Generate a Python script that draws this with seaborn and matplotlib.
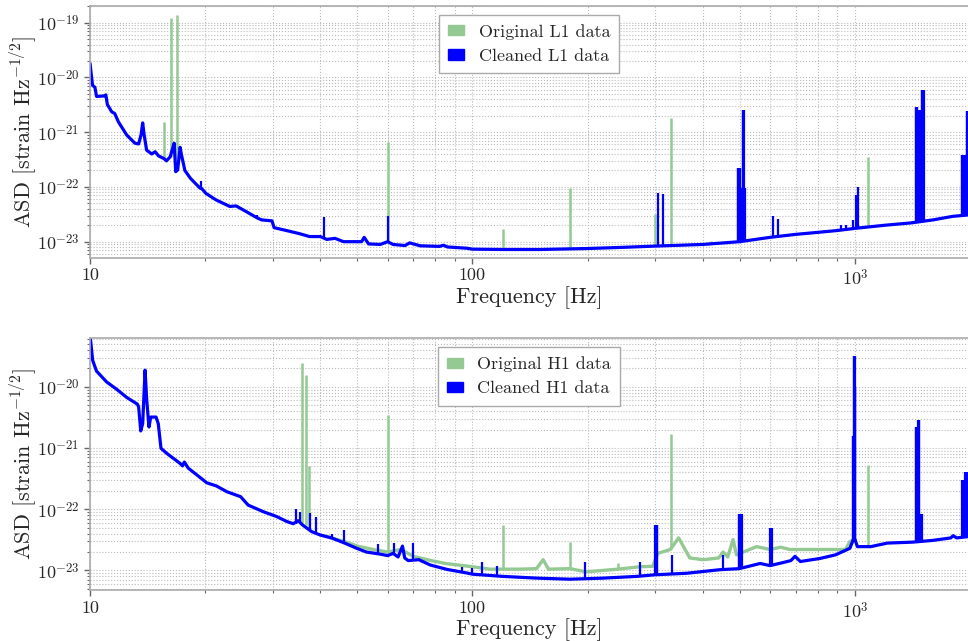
"""
ASD of original vs cleaned L1 / H1 strain data
"""

import numpy as np
import matplotlib
matplotlib.use('Agg')
import matplotlib.pyplot as plt
from matplotlib.patches import Patch
from matplotlib.ticker import LogLocator, NullFormatter, FuncFormatter, FixedLocator
import seaborn as sns

# ---------------- L1 (top panel) ----------------
# broadband curve of the cleaned data (original lies underneath it)
l1_freq = [10.0, 10.15, 10.3, 10.4, 10.9, 11.0, 11.1, 11.4, 11.6, 11.86, 12.47, 13.1, 13.4,
           13.6, 13.73, 13.85, 14.06, 14.5, 14.8, 15.1, 15.6, 15.85, 16.2, 16.45, 16.6,
           16.75, 16.95, 17.2, 17.35, 17.7, 18.3, 19.0, 19.4, 19.6, 20.1, 21.35, 23.2,
           24.1, 25.6, 27.4, 28.1, 29.9, 30.3, 32.6, 35.3, 37.5, 40.0, 41.6, 43.7, 46.0,
           51.3, 52.1, 53.5, 57.4, 60.0, 62.0, 66.6, 68.5, 73.0, 82.0, 84.0, 86.0, 96.6,
           100, 120, 150, 200, 250, 300, 400, 500, 600, 700, 800, 900, 1000, 1200, 1400,
           1600, 1800, 2000]
l1_clean = [1.8e-20, 7.2e-21, 6.6e-21, 4.5e-21, 4.6e-21, 4.8e-21, 3.2e-21, 2.35e-21, 2.2e-21,
            1.55e-21, 8.9e-22, 6.3e-22, 6.1e-22, 9e-22, 1.48e-21, 9e-22, 4.7e-22, 4.0e-22,
            4.4e-22, 3.7e-22, 3.3e-22, 3.0e-22, 3.55e-22, 5.1e-22, 6.3e-22, 1.9e-22, 2.05e-22,
            5.3e-22, 3.8e-22, 2.0e-22, 1.44e-22, 1.1e-22, 9.5e-23, 9.3e-23, 7.6e-23, 5.8e-23,
            4.4e-23, 4.5e-23, 3.55e-23, 2.7e-23, 2.5e-23, 2.4e-23, 1.8e-23, 1.6e-23, 1.4e-23,
            1.24e-23, 1.24e-23, 1.1e-23, 1.15e-23, 1.0e-23, 1.0e-23, 1.2e-23, 9.1e-24, 8.9e-24,
            1.0e-23, 8.9e-24, 8.5e-24, 9.5e-24, 8.4e-24, 8.2e-24, 8.6e-24, 8.0e-24, 7.6e-24,
            7.3e-24, 7.2e-24, 7.2e-24, 7.5e-24, 7.9e-24, 8.3e-24, 8.9e-24, 1.0e-23, 1.2e-23,
            1.36e-23, 1.48e-23, 1.6e-23, 1.75e-23, 2.0e-23, 2.2e-23, 2.5e-23, 2.9e-23, 3.1e-23]

# lines present only in the original L1 data: frequency, floor, peak
l1_orig_line_f = [15.64, 16.25, 16.9, 60.0, 120, 180, 300, 331, 420, 1083]
l1_orig_line_lo = [3.2e-22, 3.5e-22, 2.3e-22, 1.0e-23, 7.2e-24, 7.3e-24, 8.3e-24, 8.4e-24,
                   9e-24, 1.85e-23]
l1_orig_line_hi = [1.55e-21, 1.2e-19, 1.38e-19, 6.7e-22, 1.7e-23, 9.5e-23, 3.2e-23, 1.8e-21,
                   1.05e-23, 3.5e-22]

# lines still in the cleaned L1 data
l1_clean_line_f = [19.5, 27.3, 40.8, 60.0, 305, 314,
                   494, 496, 498, 500, 502, 504, 506, 508, 510, 511, 512, 514, 516,
                   610, 628, 920, 950, 990, 1009, 1020,
                   1444, 1448, 1452, 1456, 1460, 1464, 1468, 1472, 1476, 1480, 1484,
                   1490, 1494, 1498, 1502, 1506, 1510, 1514,
                   1902, 1910, 1918, 1926, 1934, 1942, 1950, 1958, 1964, 1970]
l1_clean_line_lo = [9.5e-23, 2.7e-23, 1.2e-23, 1.0e-23, 8.3e-24, 8.4e-24,
                    1.0e-23, 1.0e-23, 1.0e-23, 1.0e-23, 1.0e-23, 1.0e-23, 1.0e-23, 1.0e-23,
                    1.0e-23, 1.0e-23, 1.0e-23, 1.0e-23, 1.0e-23,
                    1.2e-23, 1.2e-23, 1.6e-23, 1.65e-23, 1.7e-23, 1.75e-23, 1.75e-23,
                    2.2e-23, 2.2e-23, 2.2e-23, 2.2e-23, 2.2e-23, 2.2e-23, 2.2e-23, 2.2e-23,
                    2.2e-23, 2.2e-23, 2.2e-23, 2.3e-23, 2.3e-23, 2.3e-23, 2.3e-23, 2.3e-23,
                    2.3e-23, 2.3e-23,
                    3.0e-23, 3.0e-23, 3.0e-23, 3.0e-23, 3.0e-23, 3.0e-23, 3.0e-23, 3.0e-23,
                    3.0e-23, 3.0e-23]
l1_clean_line_hi = [1.3e-22, 3.1e-23, 2.8e-23, 2.9e-23, 7.9e-23, 7.4e-23,
                    2.2e-22, 2.2e-22, 2.2e-22, 2.2e-22, 2.2e-22, 9.5e-23, 9.5e-23, 9.5e-23,
                    2.5e-21, 2.5e-21, 2.5e-21, 9.5e-23, 9.5e-23,
                    2.9e-23, 2.6e-23, 2.0e-23, 2.0e-23, 2.5e-23, 7.1e-23, 1.0e-22,
                    2.9e-21, 2.9e-21, 2.9e-21, 2.9e-21, 2.55e-21, 2.55e-21, 2.55e-21, 2.55e-21,
                    2.55e-21, 2.55e-21, 1.4e-21, 2.55e-21, 6.0e-21, 6.0e-21, 6.0e-21, 6.0e-21,
                    6.0e-21, 6.0e-21,
                    3.8e-22, 3.8e-22, 3.8e-22, 3.8e-22, 3.8e-22, 3.8e-22, 3.8e-22, 2.4e-21,
                    2.4e-21, 2.4e-21]

l1_yticks = [1e-23, 1e-22, 1e-21, 1e-20, 1e-19]

# ---------------- H1 (bottom panel) ----------------
h1_freq = [10.0, 10.16, 10.4, 11.05, 11.74, 12.47, 13.3, 13.4, 13.57, 13.73, 13.93, 14.07,
           14.26, 14.41, 14.88, 15.08, 15.33, 15.86, 17.2, 17.45, 17.65, 18.06, 20.2, 21.4,
           22.8, 24.77, 25.9, 28.4, 30.75, 32.7, 34.0, 35.0, 36.0, 38.0, 39.95, 42.8, 46.0,
           49.8, 52.8, 57.3, 60.0, 62.0, 63.9, 65.6, 66.5, 67.9, 72.4, 77.5, 85.8, 96.6,
           100, 120, 147, 180, 220, 269, 300, 363, 444, 498, 565, 600, 650, 680, 697, 720,
           810, 890, 970, 990, 1000, 1015, 1100, 1215, 1415, 1600, 1780, 1807, 1844, 2000]
h1_clean = [7e-20, 2.7e-20, 1.8e-20, 1.2e-20, 9.1e-21, 6.7e-21, 5.2e-21, 4.7e-21, 1.9e-21,
            2.5e-21, 1.87e-20, 6e-21, 2.2e-21, 3.2e-21, 3.2e-21, 2.5e-21, 9.9e-22, 8.2e-22,
            5.6e-22, 5.1e-22, 5.9e-22, 4.7e-22, 2.7e-22, 2.4e-22, 1.93e-22, 1.6e-22, 1.17e-22,
            9.1e-23, 7.6e-23, 6.3e-23, 5.8e-23, 6.5e-23, 5.5e-23, 4.3e-23, 3.8e-23, 3.4e-23,
            2.85e-23, 2.3e-23, 2.0e-23, 1.85e-23, 1.75e-23, 1.9e-23, 1.66e-23, 2.5e-23,
            1.6e-23, 1.45e-23, 1.5e-23, 1.23e-23, 1.04e-23, 9.1e-24, 8.7e-24, 8.0e-24, 7.5e-24,
            7.2e-24, 7.5e-24, 8.0e-24, 8.5e-24, 9.0e-24, 1.03e-23, 1.07e-23, 1.3e-23, 1.2e-23,
            1.35e-23, 1.45e-23, 1.7e-23, 1.4e-23, 1.57e-23, 1.8e-23, 2.3e-23, 3.2e-23, 3.2e-23,
            2.45e-23, 2.45e-23, 2.8e-23, 2.9e-23, 3.1e-23, 3.4e-23, 3.7e-23, 3.4e-23, 3.6e-23]

# original H1 broadband where it sits above the cleaned curve
h1_orig_freq = [40, 46, 50, 55, 60, 65, 70, 78, 85, 100, 111, 133, 147, 153, 158, 180, 198,
                240, 274, 296, 305, 329, 346, 370, 401, 440, 452, 465, 480, 490, 553, 600,
                640, 675, 945, 970, 1000]
h1_orig = [3.8e-23, 3.0e-23, 2.5e-23, 2.2e-23, 2.0e-23, 2.2e-23, 1.7e-23, 1.45e-23, 1.3e-23,
           1.15e-23, 1.05e-23, 1.05e-23, 1.07e-23, 1.5e-23, 1.05e-23, 1.07e-23, 9.5e-24,
           1.05e-23, 1.15e-23, 1.17e-23, 1.9e-23, 2.2e-23, 3.4e-23, 1.6e-23, 1.5e-23,
           1.6e-23, 2.0e-23, 1.66e-23, 3.2e-23, 1.8e-23, 2.45e-23, 2.2e-23, 2.4e-23, 2.2e-23,
           2.2e-23, 2.97e-23, 3.2e-23]

h1_orig_line_f = [35.8, 36.7, 37.4, 60.0, 120, 180, 240, 331, 1083]
h1_orig_line_lo = [6e-23, 5.5e-23, 5e-23, 2.0e-23, 1.05e-23, 1.07e-23, 1.05e-23, 2.2e-23,
                   2.5e-23]
h1_orig_line_hi = [2.4e-20, 1.55e-20, 5e-22, 3.4e-21, 5.5e-23, 2.95e-23, 1.3e-23, 1.7e-21,
                   5.2e-22]

h1_clean_line_f = [34.5, 35.5, 37.6, 39.0, 42.8, 46.0, 56.6, 62.2, 69.9, 93.8, 100, 105.6,
                   116, 197, 274, 300, 301, 302, 303, 304, 332, 452,
                   497, 499, 501, 503, 505, 507, 600, 602, 604, 606,
                   986, 990, 994, 996, 997, 998, 1000, 1002,
                   1444, 1448, 1452, 1456, 1460, 1464, 1467, 1470, 1474, 1478, 1482, 1486,
                   1490, 1494, 1910, 1918, 1926, 1934, 1942, 1950, 1958, 1966, 1974]
h1_clean_line_lo = [5.8e-23, 6e-23, 4.5e-23, 4e-23, 3.4e-23, 2.85e-23, 1.85e-23, 1.8e-23,
                    1.5e-23, 9.5e-24, 8.7e-24, 8.5e-24, 8.2e-24, 7.2e-24, 8.2e-24, 8.5e-24,
                    8.5e-24, 8.5e-24, 8.5e-24, 8.5e-24, 8.8e-24, 1.05e-23,
                    1.07e-23, 1.07e-23, 1.07e-23, 1.07e-23, 1.07e-23, 1.07e-23, 1.2e-23,
                    1.2e-23, 1.2e-23, 1.2e-23,
                    3.2e-23, 3.2e-23, 3.2e-23, 3.2e-23, 3.2e-23, 3.2e-23, 3.2e-23, 3.2e-23,
                    2.9e-23, 2.9e-23, 2.9e-23, 2.9e-23, 2.9e-23, 2.9e-23, 2.9e-23, 2.9e-23,
                    2.9e-23, 2.9e-23, 2.9e-23, 2.9e-23, 2.9e-23, 2.9e-23,
                    3.5e-23, 3.5e-23, 3.5e-23, 3.5e-23, 3.5e-23, 3.5e-23, 3.5e-23, 3.5e-23,
                    3.5e-23]
h1_clean_line_hi = [1.0e-22, 9e-23, 8.8e-23, 7.5e-23, 4e-23, 4.5e-23, 2.7e-23, 2.8e-23,
                    2.8e-23, 1.15e-23, 1.1e-23, 1.35e-23, 1.2e-23, 1.35e-23, 1.35e-23, 5.5e-23,
                    5.5e-23, 5.5e-23, 5.5e-23, 5.5e-23, 1.8e-23, 1.8e-23,
                    8.5e-23, 8.5e-23, 8.5e-23, 8.5e-23, 8.5e-23, 8.5e-23, 4.9e-23, 4.9e-23,
                    4.9e-23, 4.9e-23,
                    1.6e-21, 1.6e-21, 1.6e-21, 3.2e-20, 3.2e-20, 3.2e-20, 1.0e-20, 1.0e-20,
                    2.2e-21, 2.2e-21, 2.2e-21, 2.2e-21, 2.2e-21, 2.9e-21, 2.9e-21, 2.9e-21,
                    8.5e-23, 8.5e-23, 8.5e-23, 8.5e-23, 8.5e-23, 8.5e-23,
                    3.0e-22, 3.0e-22, 3.0e-22, 3.0e-22, 4.0e-22, 4.0e-22, 4.0e-22, 4.0e-22,
                    4.0e-22]

h1_yticks = [1e-23, 1e-22, 1e-21, 1e-20]

ORIG_COLOR = '#94c994'
CLEAN_COLOR = '#0000ff'

sns.set_style('white')
plt.rcParams['font.family'] = 'serif'
plt.rcParams['font.serif'] = ['cmr10']
plt.rcParams['mathtext.fontset'] = 'cm'
plt.rcParams['axes.unicode_minus'] = False


def xfmt(v, pos):
    # 10 and 100 written out, higher decades as powers
    e = int(round(np.log10(v)))
    if e < 3:
        return '%d' % round(v)
    return r'$10^{%d}$' % e


def yfmt(v, pos):
    return r'$10^{%d}$' % int(round(np.log10(v)))


def draw_panel(ax, det, freq, clean, orig_freq, orig, o_f, o_lo, o_hi, c_f, c_lo, c_hi,
               ylim, yticks):
    # original data first (underneath)
    if orig_freq is not None:
        sns.lineplot(x=orig_freq, y=orig, ax=ax, color=ORIG_COLOR, lw=2.4,
                     estimator=None, sort=False)
    ax.vlines(o_f, o_lo, o_hi, color=ORIG_COLOR, lw=1.8)
    # cleaned data on top
    sns.lineplot(x=freq, y=clean, ax=ax, color=CLEAN_COLOR, lw=2.3,
                 estimator=None, sort=False)
    ax.vlines(c_f, c_lo, c_hi, color=CLEAN_COLOR, lw=1.6)

    ax.set_xscale('log')
    ax.set_yscale('log')
    ax.set_xlim(10, 1975)
    ax.set_ylim(*ylim)

    ax.xaxis.set_major_locator(FixedLocator([10, 100, 1000]))
    ax.xaxis.set_major_formatter(FuncFormatter(xfmt))
    ax.xaxis.set_minor_formatter(NullFormatter())
    ax.yaxis.set_major_locator(FixedLocator(yticks))
    ax.yaxis.set_minor_locator(LogLocator(base=10, subs=np.arange(2, 10), numticks=20))
    ax.yaxis.set_major_formatter(FuncFormatter(yfmt))
    ax.yaxis.set_minor_formatter(NullFormatter())

    ax.grid(True, which='both', linestyle=':', color='#bbbbbb', linewidth=0.8)
    ax.set_axisbelow(True)
    for side in ['top', 'left', 'bottom']:
        ax.spines[side].set_color('#aaaaaa')
        ax.spines[side].set_linewidth(1.2)
    ax.spines['right'].set_visible(False)
    ax.tick_params(which='major', direction='out', length=4, width=1, color='#666666',
                   labelsize=13, left=True, bottom=True)
    ax.tick_params(which='minor', direction='out', length=2, width=0.8, color='#666666',
                   left=True, bottom=True)

    ax.set_xlabel('Frequency [Hz]', fontsize=16)
    ax.set_ylabel(r'ASD [strain Hz$^{-1/2}$]', fontsize=16)
    ax.xaxis.set_label_coords(0.5, -0.112)
    ax.yaxis.set_label_coords(-0.058, 0.5)

    handles = [Patch(color=ORIG_COLOR, label=f'Original {det} data'),
               Patch(color=CLEAN_COLOR, label=f'Cleaned {det} data')]
    leg = ax.legend(handles=handles, loc='upper center', fontsize=13, fancybox=False,
                    framealpha=1.0, edgecolor='#aaaaaa', handlelength=0.9,
                    handleheight=0.5, handletextpad=0.8, borderpad=0.5)
    leg.get_frame().set_linewidth(1.0)


fig = plt.figure(figsize=(9.68, 6.41), dpi=100)
ax1 = fig.add_axes([0.093, 0.598, 0.907, 0.393])
ax2 = fig.add_axes([0.093, 0.0796, 0.907, 0.3927])

draw_panel(ax1, 'L1', l1_freq, l1_clean, None, None,
           l1_orig_line_f, l1_orig_line_lo, l1_orig_line_hi,
           l1_clean_line_f, l1_clean_line_lo, l1_clean_line_hi,
           (5.1e-24, 2.04e-19), l1_yticks)
draw_panel(ax2, 'H1', h1_freq, h1_clean, h1_orig_freq, h1_orig,
           h1_orig_line_f, h1_orig_line_lo, h1_orig_line_hi,
           h1_clean_line_f, h1_clean_line_lo, h1_clean_line_hi,
           (4.8e-24, 6.2e-20), h1_yticks)

plt.savefig('out.png', dpi=100)
